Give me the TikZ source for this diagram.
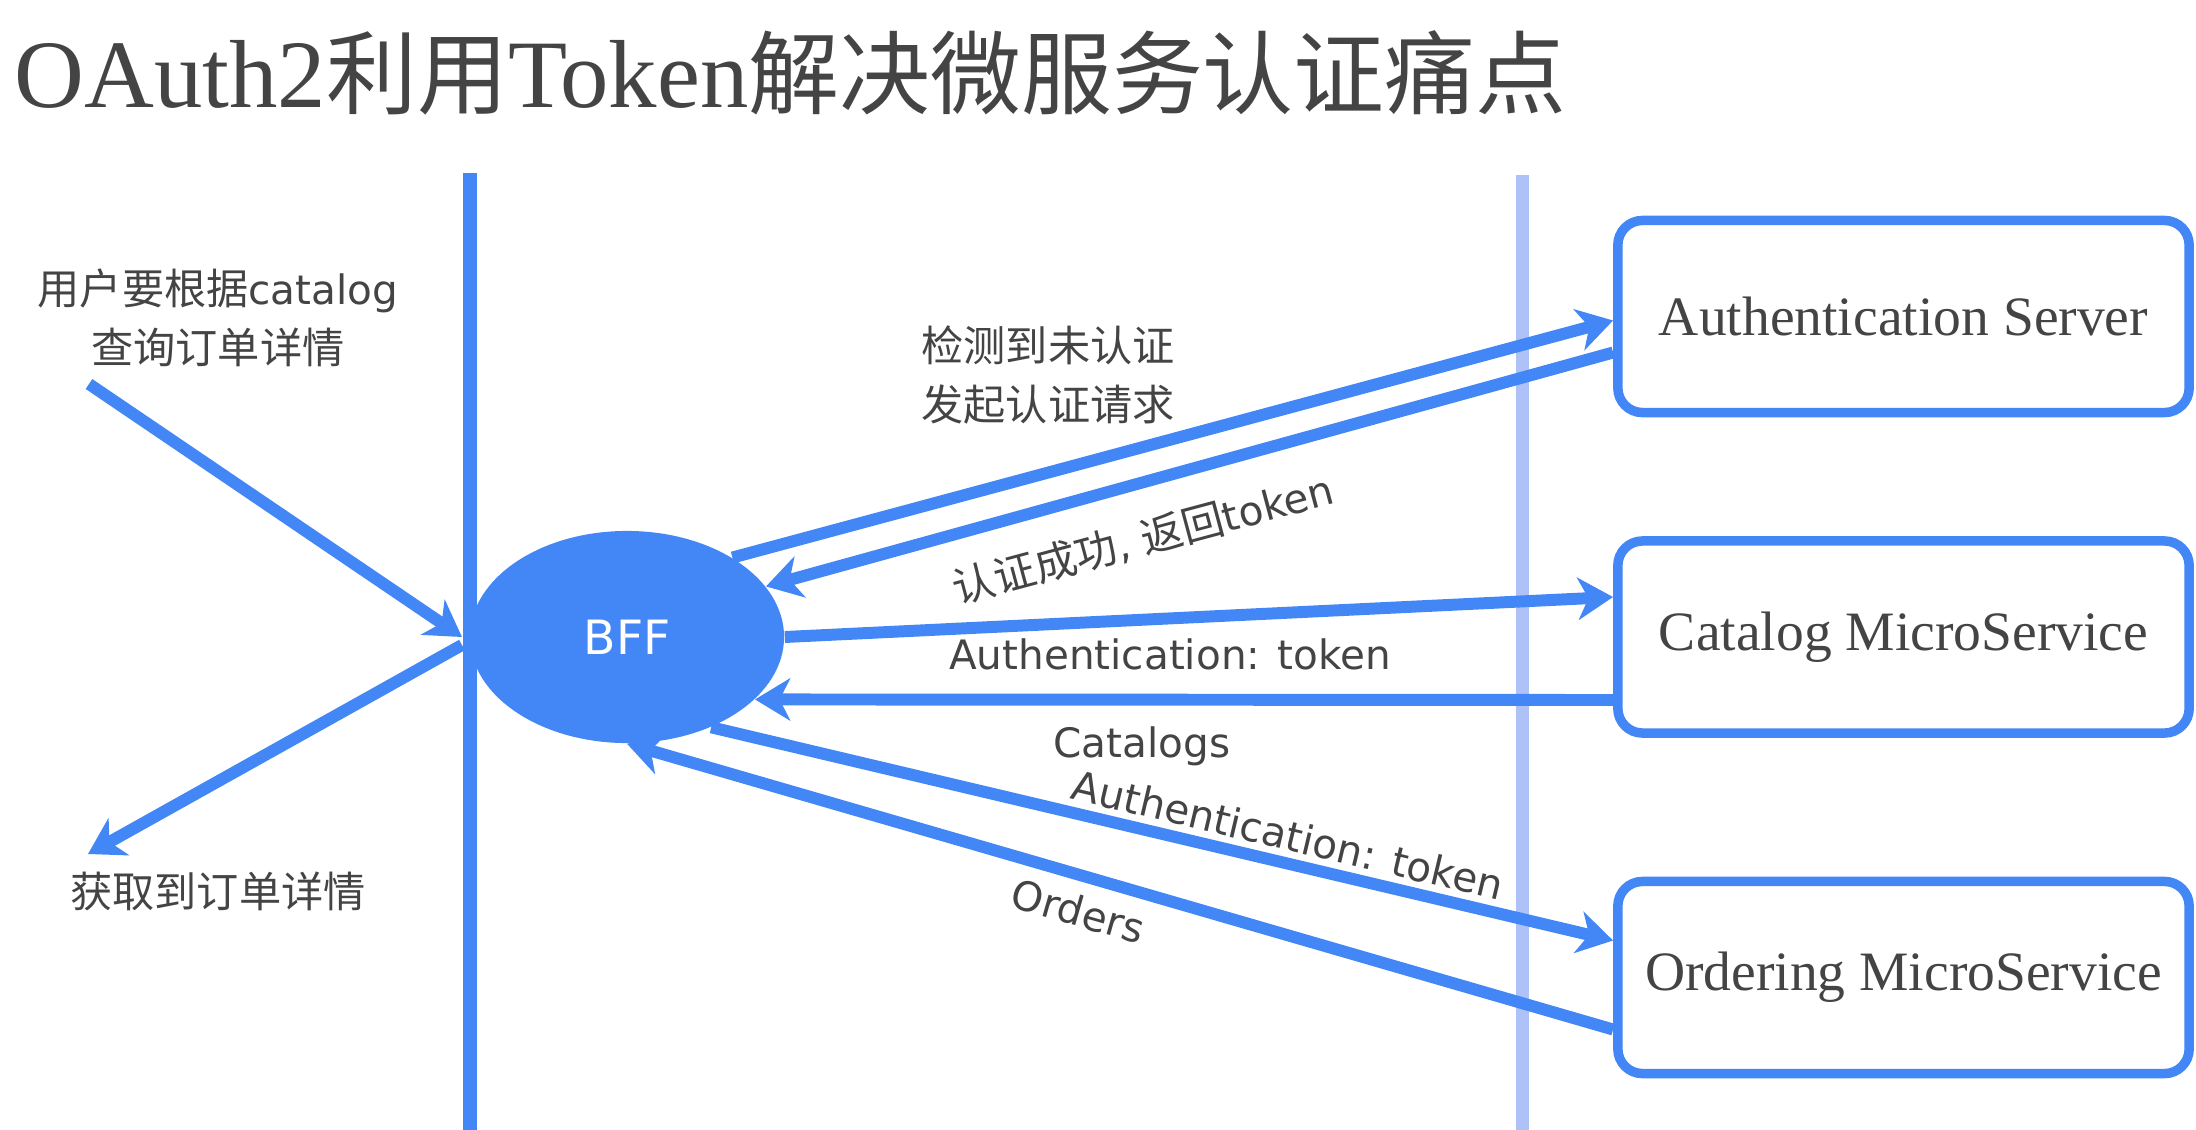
\documentclass[tikz,border=0pt]{standalone}
\usepackage{fontspec}
\setmainfont{Liberation Serif}
\newfontfamily\labelfont[Scale=0.96]{DejaVu Sans}
\newfontfamily\zhfont{Noto Sans CJK SC}
\newfontfamily\titlezh[Scale=0.94]{Noto Sans CJK SC}
\newcommand{\zhtext}[1]{{\zhfont #1}}
\usetikzlibrary{shapes.geometric, arrows.meta, calc}

\definecolor{flowblue}{RGB}{66,135,245}
\definecolor{laneblue}{RGB}{174,194,247}
\definecolor{inkgray}{RGB}{68,68,68}

\begin{document}
\begin{tikzpicture}[
    x=0.01cm, y=0.01cm,
    % Node styles
    service/.style={rectangle, draw=flowblue, line width=2.7pt, rounded corners=7pt, fill=white,
        minimum width=5.71cm, minimum height=1.92cm, inner sep=0pt,
        font=\fontsize{15.8}{19}\selectfont, text=inkgray},
    gateway/.style={ellipse, fill=flowblue, minimum width=3.14cm, minimum height=2.12cm, inner sep=0pt,
        font=\labelfont\fontsize{14}{16}\selectfont, text=white},
    msg/.style={font=\labelfont\fontsize{12}{16.8}\selectfont, text=inkgray, align=center, inner sep=0pt},
    % Line styles
    lane/.style={line width=4pt, draw=flowblue},
    lanelight/.style={line width=3.7pt, draw=laneblue},
    flow/.style={-{Stealth[length=10pt, width=12pt, inset=3pt]}, line width=3.4pt, draw=flowblue}
  ]
  \useasboundingbox (0,0) rectangle (2196,-1130);

  % ==========================================
  % 1. Title
  % ==========================================
  \node[anchor=base west, inner sep=0pt, text=inkgray, font=\fontsize{27.5}{33}\selectfont] (title) at (14,-107)
    {OAuth2{\titlezh 利用}Token{\titlezh 解决微服务认证痛点}};

  % ==========================================
  % 2. Lanes
  % ==========================================
  \draw[lane] (470,-173) -- (470,-1130);
  \draw[lanelight] (1522,-175) -- (1522,-1130);

  % ==========================================
  % 3. Gateway and services
  % ==========================================
  \node[gateway] (bff) at (627,-637) {BFF};
  \node[service] (auth) at (1903.5,-316.5) {Authentication Server};
  \node[service] (catalog) at (1903.5,-637) {Catalog MicroService};
  \node[service] (ordering) at (1903.5,-977.5) {Ordering MicroService};

  % ==========================================
  % 4. User side
  % ==========================================
  \node[msg] (request) at (218,-318) {\zhtext{用户要根据}catalog\\\zhtext{查询订单详情}};
  \node[msg] (result) at (218,-891) {\zhtext{获取到订单详情}};
  \coordinate (userin) at (89,-384);
  \coordinate (entry) at (462,-637);
  \coordinate (exit) at (462,-645);
  \coordinate (userout) at (88,-854);

  \draw[flow] (userin) -- (entry);
  \draw[flow] (exit) -- (userout);

  % ==========================================
  % 5. Calls from the BFF
  % ==========================================
  \draw[flow] (bff.37) -- ($(auth.west)+(0,-4)$);
  \draw[flow] ($(auth.west)+(0,-36)$) -- (bff.20);
  \draw[flow] (bff.east) -- ($(catalog.west)+(0,40)$);
  \draw[flow] ($(catalog.west)+(0,-63)$) -- (bff.-26);
  \draw[flow] (bff.-47) -- ($(ordering.west)+(0,37)$);
  \draw[flow] ($(ordering.west)+(0,-52)$) -- (bff.south);

  % Labels on the calls
  \node[msg] (detect) at (1048,-375) {\zhtext{检测到未认证}\\\zhtext{发起认证请求}};
  \node[msg, rotate=15] (granted) at (1143,-539) {\zhtext{认证成功}, \zhtext{返回}token};
  \node[msg] (catalogreq) at (1170,-654) {Authentication: token};
  \node[msg] (catalogres) at (1142,-746) {Catalogs};
  \node[msg, rotate=-13.3] (orderreq) at (1288,-835) {Authentication: token};
  \node[msg, rotate=-16] (orderres) at (1078,-911) {Orders};
\end{tikzpicture}
\end{document}
